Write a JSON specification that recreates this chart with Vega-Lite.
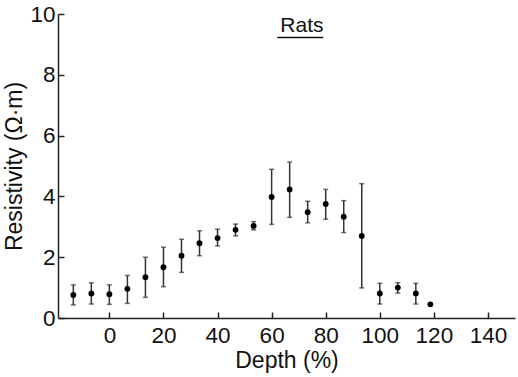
{
  "$schema": "https://vega.github.io/schema/vega-lite/v6.json",
  "autosize": {"type": "none"},
  "padding": {"left": 58, "top": 14, "right": 3, "bottom": 59},
  "width": 457,
  "height": 304,
  "background": "white",
  "config": {
    "view": {"stroke": null},
    "font": "Liberation Sans",
    "axis": {
      "grid": false,
      "domainColor": "#222",
      "domainWidth": 1.5,
      "tickColor": "#222",
      "tickWidth": 1.5,
      "tickSize": -6,
      "labelFont": "Liberation Sans",
      "labelFontSize": 22.5,
      "labelColor": "#111",
      "titleFont": "Liberation Sans",
      "titleFontSize": 23,
      "titleFontWeight": "normal",
      "titleColor": "#111"
    }
  },
  "datasets": {
    "rats": [
      {"depth": -13.33, "res": 0.76, "lo": 0.43, "hi": 1.09},
      {"depth": -6.67, "res": 0.81, "lo": 0.46, "hi": 1.16},
      {"depth": 0, "res": 0.78, "lo": 0.45, "hi": 1.09},
      {"depth": 6.67, "res": 0.96, "lo": 0.48, "hi": 1.4},
      {"depth": 13.33, "res": 1.34, "lo": 0.68, "hi": 2.0},
      {"depth": 20, "res": 1.67, "lo": 1.03, "hi": 2.33},
      {"depth": 26.67, "res": 2.05, "lo": 1.5, "hi": 2.59},
      {"depth": 33.33, "res": 2.46, "lo": 2.05, "hi": 2.87},
      {"depth": 40, "res": 2.63, "lo": 2.37, "hi": 2.92},
      {"depth": 46.67, "res": 2.9, "lo": 2.7, "hi": 3.09},
      {"depth": 53.33, "res": 3.03, "lo": 2.9, "hi": 3.17},
      {"depth": 60, "res": 3.98, "lo": 3.08, "hi": 4.89},
      {"depth": 66.67, "res": 4.23, "lo": 3.31, "hi": 5.13},
      {"depth": 73.33, "res": 3.48, "lo": 3.13, "hi": 3.84},
      {"depth": 80, "res": 3.75, "lo": 3.25, "hi": 4.23},
      {"depth": 86.67, "res": 3.33, "lo": 2.81, "hi": 3.86},
      {"depth": 93.33, "res": 2.7, "lo": 0.99, "hi": 4.42},
      {"depth": 100, "res": 0.81, "lo": 0.46, "hi": 1.14},
      {"depth": 106.67, "res": 1.0, "lo": 0.82, "hi": 1.16},
      {"depth": 113.33, "res": 0.81, "lo": 0.46, "hi": 1.14},
      {"depth": 118.7, "res": 0.45, "lo": null, "hi": null}
    ],
    "label": [{"x": 71.2, "y": 9.4, "text": "Rats", "x1": 62.1, "x2": 79.1, "yl": 9.23}]
  },
  "layer": [
    {
      "data": {"name": "rats"},
      "transform": [{"filter": "datum.lo != null"}],
      "mark": {"type": "errorbar", "color": "#333", "thickness": 1.5, "ticks": {"size": 5, "thickness": 1.5, "color": "#333"}},
      "encoding": {
        "x": {"field": "depth", "type": "quantitative", "scale": {"domain": [-19, 150], "nice": false, "zero": false},
          "axis": {"title": "Depth (%)", "values": [0, 20, 40, 60, 80, 100, 120, 140], "labelPadding": 12, "titlePadding": 3}},
        "y": {"field": "lo", "type": "quantitative", "scale": {"domain": [0, 10], "nice": false},
          "axis": {"title": "Resistivity (Ω·m)", "values": [0, 2, 4, 6, 8, 10], "labelPadding": 9, "titlePadding": 3}},
        "y2": {"field": "hi"}
      }
    },
    {
      "data": {"name": "rats"},
      "mark": {"type": "circle", "color": "#000", "opacity": 1, "size": 34},
      "encoding": {
        "x": {"field": "depth", "type": "quantitative"},
        "y": {"field": "res", "type": "quantitative"}
      }
    },
    {
      "data": {"name": "label"},
      "mark": {"type": "text", "fontSize": 21, "font": "Liberation Sans", "color": "#111", "baseline": "alphabetic", "align": "center"},
      "encoding": {
        "x": {"field": "x", "type": "quantitative"},
        "y": {"field": "y", "type": "quantitative"},
        "text": {"field": "text"}
      }
    },
    {
      "data": {"name": "label"},
      "mark": {"type": "rule", "color": "#111", "strokeWidth": 1.5},
      "encoding": {
        "x": {"field": "x1", "type": "quantitative"},
        "x2": {"field": "x2"},
        "y": {"field": "yl", "type": "quantitative"}
      }
    }
  ]
}
